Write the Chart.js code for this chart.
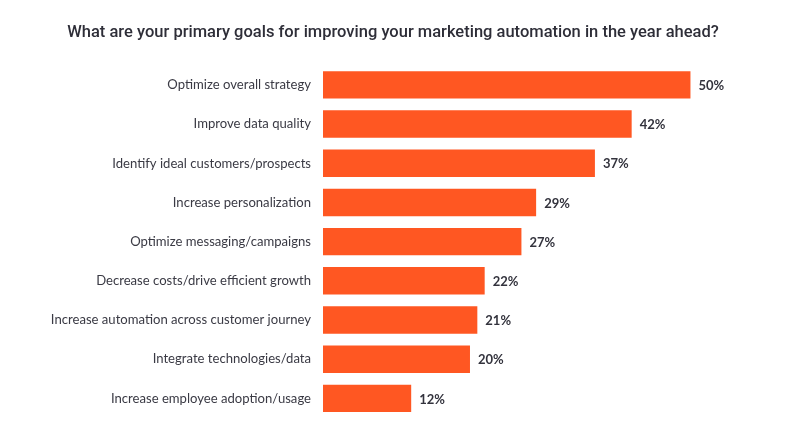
<!DOCTYPE html>
<html><head><meta charset="utf-8">
<script src="https://cdn.jsdelivr.net/npm/chart.js@4"></script>
<style>html,body{margin:0;padding:0;background:#fff}#wrap{width:786px;height:441px}</style>
</head><body><div id="wrap"><canvas id="c"></canvas></div>
<script>
const categories = ["Optimize overall strategy","Improve data quality","Identify ideal customers/prospects","Increase personalization","Optimize messaging/campaigns","Decrease costs/drive efficient growth","Increase automation across customer journey","Integrate technologies/data","Increase employee adoption/usage"];
const values = [50,42,37,29,27,22,21,20,12];
const titleText = "What are your primary goals for improving your marketing automation in the year ahead?";

const valueLabels = {
  id: 'valueLabels',
  afterDatasetsDraw(chart) {
    const ctx = chart.ctx;
    const meta = chart.getDatasetMeta(0);
    ctx.save();
    ctx.font = "bold 13px Lato";
    ctx.fillStyle = "#33333d";
    ctx.textAlign = "left";
    ctx.textBaseline = "middle";
    meta.data.forEach((bar, i) => {
      ctx.fillText(values[i] + "%", bar.x + 8, bar.y + 1);
    });
    ctx.restore();
  }
};

new Chart(document.getElementById('c'), {
  type: 'bar',
  data: { labels: categories, datasets: [{ data: values, backgroundColor: '#FF5722', borderWidth: 0, categoryPercentage: 0.7, barPercentage: 1 }] },
  options: {
    indexAxis: 'y', responsive: true, maintainAspectRatio: false, animation: false,
    layout: { padding: { left: 0, right: 0, top: 0, bottom: 23 } },
    scales: {
      x: { display: false, min: 0, max: 63 },
      y: { grid: { display: false, drawTicks: false }, border: { display: false },
           ticks: { color: '#3a3a44', font: { family: 'Lato', size: 13.1 }, padding: 12 },
           afterFit(s) { s.width = 323; } }
    },
    plugins: {
      legend: { display: false }, tooltip: { enabled: false },
      title: { display: true, text: titleText, color: '#2e2e38', font: { family: 'Roboto', size: 16.5, weight: '500' }, padding: { top: 23, bottom: 22.5 } }
    }
  },
  plugins: [valueLabels]
});
</script></body></html>
